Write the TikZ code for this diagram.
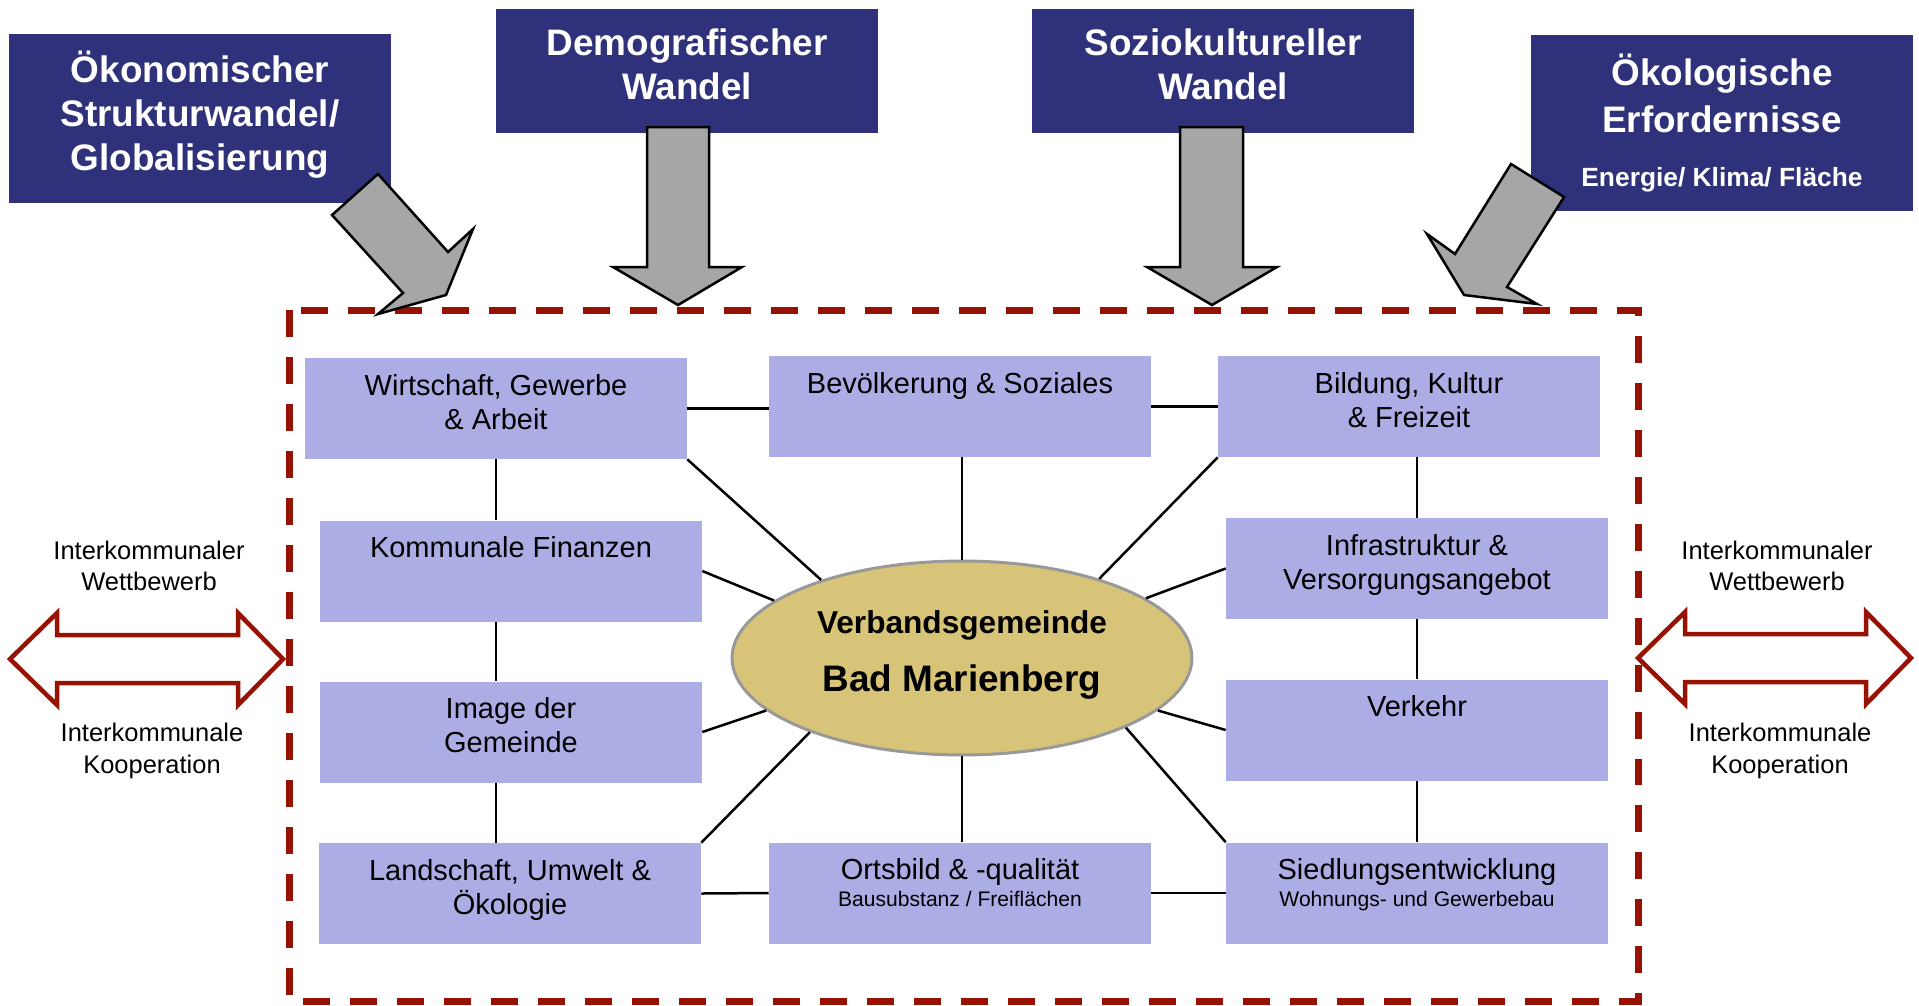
\documentclass[tikz,border=0pt]{standalone}
\usepackage{fontspec}
\setmainfont{Liberation Sans}
\usepackage{tikz}
\usetikzlibrary{calc, positioning, shapes.geometric}
\usepackage{xcolor}
\definecolor{navy}{RGB}{47,50,122}
\definecolor{boxblue}{RGB}{173,173,230}
\definecolor{khaki}{RGB}{216,196,120}
\definecolor{framered}{RGB}{152,18,4}
\definecolor{arrowgray}{RGB}{166,166,166}

\begin{document}
\begin{tikzpicture}[x=0.02cm, y=-0.02cm,
            trend/.style={rectangle, fill=navy, text=white, inner sep=0pt, minimum width=7.64cm, align=center, font=\fontsize{21}{25}\selectfont\bfseries},
            field/.style={rectangle, fill=boxblue, inner sep=0pt, minimum width=7.64cm, minimum height=2.02cm, font=\fontsize{16.5}{19.5}\selectfont,
                execute at begin node={\begin{minipage}[t][2.02cm][t]{7.64cm}\centering\rule{0pt}{0.74cm}},
                execute at end node={\end{minipage}}},
            center-block/.style={ellipse, draw=gray!80, line width=0.06cm, fill=khaki, minimum width=9.2cm, minimum height=3.88cm, inner sep=0pt, align=center, font=\fontsize{21}{25}\selectfont\bfseries},
            side-text/.style={align=center, font=\fontsize{14.5}{18}\selectfont},
            link/.style={line width=0.05cm},
            block-arrow/.style={draw=black, fill=arrowgray, line width=0.05cm, line join=miter},
            side-arrow/.style={draw=framered, fill=white, line width=0.09cm, line join=miter}
        ]
        \useasboundingbox (0,0) rectangle (1919,1005);

        % Frame of the Verbandsgemeinde
        \draw[framered, line width=0.14cm, dash pattern=on 0.54cm off 0.4cm] (289,310) rectangle (1638,1001);

        % Trend blocks
        \node[trend, minimum height=3.38cm, text depth=0.31cm] (oekon) at (200,118.5) {Ökonomischer\\Strukturwandel/\\Globalisierung};
        \node[trend, minimum height=2.48cm, text depth=0.26cm] (demo) at (687,71) {Demografischer\\Wandel};
        \node[trend, minimum height=2.48cm, text depth=0.26cm] (sozio) at (1223,71) {Soziokultureller\\Wandel};
        \node[trend, minimum height=3.52cm] (oekol) at (1722,123) {Ökologische\\[2pt]Erfordernisse\\[6pt]{\fontsize{15}{18}\selectfont Energie/ Klima/ Fläche}};

        % Trend arrows
        \draw[block-arrow] (378,174) -- (448,252) -- (473,229) -- (446,295) -- (378,314) -- (403,293) -- (332,215) -- cycle;
        \draw[block-arrow] (647,127) -- (709,127) -- (709,267) -- (742,267) -- (678,305) -- (613,267) -- (647,267) -- cycle;
        \draw[block-arrow] (1180,127) -- (1243,127) -- (1243,267) -- (1277,267) -- (1212,305) -- (1147,267) -- (1180,267) -- cycle;
        \draw[block-arrow] (1511,164) -- (1564,197) -- (1507,287) -- (1537,304) -- (1464,295) -- (1427,234) -- (1455,254) -- cycle;

        % Competition / cooperation
        \draw[side-arrow] (10,659) -- (57,613) -- (57,635) -- (238,635) -- (238,613) -- (283,659) -- (238,705) -- (238,683) -- (57,683) -- (57,705) -- cycle;
        \draw[side-arrow, shift={(1628,-1)}] (10,659) -- (57,613) -- (57,635) -- (238,635) -- (238,613) -- (283,659) -- (238,705) -- (238,683) -- (57,683) -- (57,705) -- cycle;
        \node[side-text] (wettL) at (149,566) {Interkommunaler\\Wettbewerb};
        \node[side-text] (koopL) at (152,751) {Interkommunale\\Kooperation};
        \node[side-text] (wettR) at (1777,566) {Interkommunaler\\Wettbewerb};
        \node[side-text] (koopR) at (1780,751) {Interkommunale\\Kooperation};

        % Centre
        \node[center-block, text depth=0.28cm] (ell) at (962,658) {{\fontsize{18}{20}\selectfont Verbandsgemeinde}\\[8.5pt]Bad Marienberg};

        % Fields of action
        \node[field] (wirt) at (496,408.5) {Wirtschaft, Gewerbe\\ \& Arbeit};
        \node[field] (bevoelk) at (960,406.5) {Bevölkerung \& Soziales};
        \node[field] (bildung) at (1409,406.5) {Bildung, Kultur\\ \& Freizeit};
        \node[field] (finanz) at (511,571) {Kommunale Finanzen};
        \node[field] (infra) at (1417,568.5) {Infrastruktur \&\\ Versorgungsangebot};
        \node[field] (image) at (511,732) {Image der\\ Gemeinde};
        \node[field] (verkehr) at (1417,730) {Verkehr};
        \node[field] (landsch) at (510,893.5) {Landschaft, Umwelt \&\\ Ökologie};
        \node[field] (ortsbild) at (960,893) {Ortsbild \& -qualität\\[-4pt]{\fontsize{12}{14}\selectfont Bausubstanz / Freiflächen}};
        \node[field] (siedlung) at (1417,893) {Siedlungsentwicklung\\[-4pt]{\fontsize{12}{14}\selectfont Wohnungs- und Gewerbebau}};

        % Links between fields
        \draw[link] (wirt.east) -- (wirt.east -| bevoelk.west);
        \draw[link] (bevoelk.east) -- (bildung.west);
        \draw[link] (wirt.south) -- (wirt.south |- finanz.north);
        \draw[link] (wirt.south |- finanz.south) -- (wirt.south |- image.north);
        \draw[link] (wirt.south |- image.south) -- (wirt.south |- landsch.north);
        \draw[link] (infra.north |- bildung.south) -- (infra.north);
        \draw[link] (infra.south) -- (verkehr.north);
        \draw[link] (verkehr.south) -- (siedlung.north);
        \draw[link] (landsch.east) -- (ortsbild.west);
        \draw[link] (ortsbild.east) -- (siedlung.west);

        % Links to the centre
        \draw[link] (wirt.south east) -- (ell.151);
        \draw[link] (finanz.east) -- (ell.163);
        \draw[link] (image.east) -- (ell.195);
        \draw[link] (landsch.north east) -- (ell.206);
        \draw[link] (ell.north |- bevoelk.south) -- (ell.north);
        \draw[link] (ell.south |- ortsbild.north) -- (ell.south);
        \draw[link] (bildung.south west) -- (ell.30);
        \draw[link] (infra.west) -- (ell.18);
        \draw[link] (verkehr.west) -- (ell.345);
        \draw[link] (siedlung.north west) -- (ell.337);

    \end{tikzpicture}
\end{document}
